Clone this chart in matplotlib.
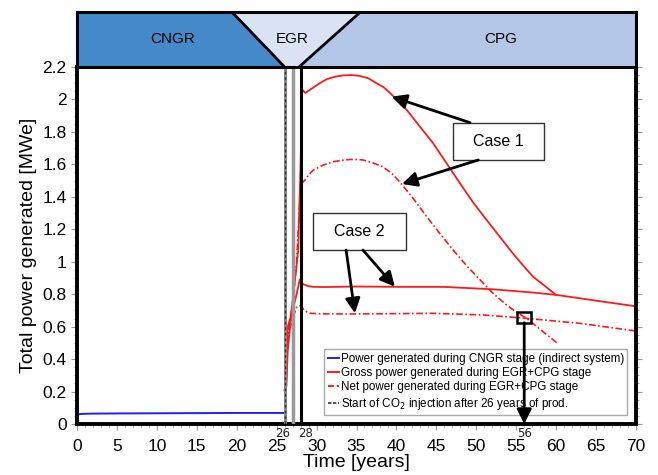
import numpy as np
import matplotlib.pyplot as plt
from matplotlib.lines import Line2D
from matplotlib.patches import Polygon, Rectangle
from matplotlib.ticker import AutoMinorLocator, MultipleLocator

plt.rcParams['font.family'] = ['Liberation Sans', 'DejaVu Sans']

# CNGR stage (indirect system)
cngr_x = [0, 0.5, 2, 5, 10, 15, 20, 25, 26]
cngr_y = [0.058, 0.062, 0.064, 0.065, 0.066, 0.067, 0.068, 0.068, 0.068]

# gross power, case 1 / case 2
gross1_x = [26.0, 26.2, 26.4, 27.0, 27.7, 28.0, 28.2, 28.6, 29.5, 30.4, 31.3, 32.3, 33.3,
            34.4, 35.4, 36.5, 37.5, 38.4, 39.2, 40.2, 41.3, 42.9, 44.6, 46.3, 48.0, 49.6,
            51.3, 53.0, 54.6, 55.9, 57.1, 58.6, 60.0]
gross1_y = [0.21, 0.23, 0.46, 0.75, 1.07, 1.60, 2.06, 2.04, 2.07, 2.10, 2.125, 2.14, 2.148,
            2.15, 2.145, 2.13, 2.10, 2.075, 2.04, 1.99, 1.935, 1.835, 1.73, 1.605, 1.48,
            1.365, 1.257, 1.15, 1.05, 0.975, 0.908, 0.85, 0.795]
gross2_x = [26.0, 26.2, 26.4, 27.0, 27.5, 27.9, 28.3, 28.9, 29.6, 31.0, 35.0, 40.4, 45.9,
            52.1, 57.1, 60.1, 65.0, 70.0]
gross2_y = [0.21, 0.23, 0.60, 0.70, 0.80, 0.89, 0.862, 0.85, 0.845, 0.844, 0.847, 0.845,
            0.845, 0.83, 0.81, 0.795, 0.76, 0.725]

# net power, case 1 / case 2
net1_x = [26.3, 26.6, 27.0, 27.5, 28.0, 28.5, 29.0, 29.6, 30.8, 32.1, 33.2, 34.2, 35.0,
          35.8, 37.0, 38.3, 39.4, 40.4, 42.1, 43.8, 45.5, 47.1, 48.8, 50.5, 52.1, 53.8,
          55.0, 56.3, 58.2, 60.1]
net1_y = [0.50, 0.62, 0.75, 1.00, 1.48, 1.50, 1.535, 1.565, 1.595, 1.616, 1.625, 1.63,
          1.63, 1.627, 1.61, 1.585, 1.545, 1.493, 1.39, 1.277, 1.17, 1.072, 0.975, 0.887,
          0.805, 0.733, 0.69, 0.651, 0.575, 0.50]
net2_x = [26.3, 26.6, 27.0, 27.5, 28.0, 28.4, 28.8, 29.2, 30.5, 34.2, 40.0, 44.6, 50.8,
          56.3, 63.0, 70.0]
net2_y = [0.50, 0.58, 0.65, 0.72, 0.73, 0.705, 0.69, 0.682, 0.679, 0.678, 0.68, 0.682,
          0.672, 0.651, 0.62, 0.573]

stage_names = ['CNGR', 'EGR', 'CPG']
stage_text_x = [12, 27, 53]
marked_years = ['26', '28', '56']
marked_label_x = [25.8, 28.6, 56.0]

fig = plt.figure(figsize=(6.58, 4.75), dpi=100)
ax = fig.add_axes([0.117, 0.1074, 0.8496, 0.7516])

ax.plot(cngr_x, cngr_y, color='#1f1fff', lw=1.4)
ax.plot(gross1_x, gross1_y, color='#ff1a1a', lw=1.3)
ax.plot(gross2_x, gross2_y, color='#ff1a1a', lw=1.3)
ax.plot(net1_x, net1_y, color='#ff1a1a', lw=1.2, dashes=[4, 1.5, 1, 1.5])
ax.plot(net2_x, net2_y, color='#ff1a1a', lw=1.2, dashes=[4, 1.5, 1, 1.5])

# stage markers
ax.axvline(26, color='#888888', lw=2.2, zorder=3)
ax.axvline(26, color='#333333', lw=1.0, ls=(0, (2, 2)), zorder=3)
ax.axvline(27, color='#999999', lw=2.5, zorder=3)
ax.axvline(28, color='black', lw=2.2, zorder=4)

ax.set_xlim(0, 70)
ax.set_ylim(0, 2.2)
ax.xaxis.set_major_locator(MultipleLocator(5))
ax.xaxis.set_minor_locator(AutoMinorLocator(5))
ax.set_yticks(np.arange(0, 2.21, 0.2))
ax.set_yticklabels(['0', '0.2', '0.4', '0.6', '0.8', '1', '1.2', '1.4', '1.6', '1.8', '2', '2.2'])
ax.yaxis.set_minor_locator(AutoMinorLocator(4))
ax.tick_params(which='both', direction='out', color='#999999', labelsize=12.5,
               right=True, top=False)
ax.tick_params(which='major', length=4)
ax.tick_params(which='minor', length=2.5)
ax.tick_params(axis='x', pad=7)
for s in ax.spines.values():
    s.set_linewidth(2.8)

ax.set_xlabel('Time [years]', fontsize=14, labelpad=0)
ax.set_ylabel('Total power generated [MWe]', fontsize=14, labelpad=4)

for lab, lx in zip(marked_years, marked_label_x):
    ax.text(lx, -0.008, lab, fontsize=8.5, ha='center', va='top', color='#222222',
            family='DejaVu Sans', transform=ax.get_xaxis_transform(), clip_on=False)

# case annotations
box_kw = dict(fill=False, edgecolor='#333333', lw=1.0, zorder=5)
ax.add_patch(Rectangle((47.1, 1.627), 11.4, 0.23, **box_kw))
ax.add_patch(Rectangle((47.1, 1.627), 11.4, 0.23, facecolor='white', edgecolor='none', zorder=4))
ax.text(52.8, 1.742, 'Case 1', ha='center', va='center', fontsize=11.5, zorder=6)
ax.add_patch(Rectangle((29.6, 1.072), 11.6, 0.23, **box_kw))
ax.add_patch(Rectangle((29.6, 1.072), 11.6, 0.23, facecolor='white', edgecolor='none', zorder=4))
ax.text(35.4, 1.187, 'Case 2', ha='center', va='center', fontsize=11.5, zorder=6)

arr = dict(arrowstyle='-|>', color='black', lw=2, mutation_scale=22, shrinkA=0, shrinkB=0)
ax.annotate('', xy=(39.4, 2.017), xytext=(49.2, 1.857), arrowprops=arr, zorder=6)
ax.annotate('', xy=(40.7, 1.479), xytext=(50.25, 1.627), arrowprops=arr, zorder=6)
ax.annotate('', xy=(34.8, 0.682), xytext=(33.7, 1.072), arrowprops=arr, zorder=6)
ax.annotate('', xy=(39.8, 0.846), xytext=(35.8, 1.072), arrowprops=arr, zorder=6)

ax.add_patch(Rectangle((55.1, 0.624), 1.7, 0.068, fill=False, edgecolor='black', lw=1.8, zorder=7))
ax.annotate('', xy=(56, 0.0), xytext=(56, 0.624), arrowprops=arr, zorder=7)

handles = [Line2D([], [], color='#1f1fff', lw=1.4),
           Line2D([], [], color='#ff1a1a', lw=1.4),
           Line2D([], [], color='#ff1a1a', lw=1.4, ls=(0, (3, 1.5))),
           Line2D([], [], color='#333333', lw=1.2, ls=(0, (2, 1)))]
labels = ['Power generated during CNGR stage (indirect system)',
          'Gross power generated during EGR+CPG stage',
          'Net power generated during EGR+CPG stage',
          'Start of CO$_2$ injection after 26 years of prod.']
leg = ax.legend(handles, labels, loc='lower right', bbox_to_anchor=(0.995, 0.008),
                fontsize=8.4, handlelength=1.0, handletextpad=0.1, labelspacing=0.2,
                borderpad=0.3, fancybox=False, framealpha=1, edgecolor='#aaaaaa')
leg.get_frame().set_linewidth(1.0)
leg.set_zorder(3)

# stage banner above the plot
bx = fig.add_axes([0.117, 0.859, 0.8496, 0.1158])
bx.set_xlim(0, 70)
bx.set_ylim(0, 1)
bx.add_patch(Polygon([(0, 0), (0, 1), (19.4, 1), (26, 0)], closed=True,
                     facecolor='#4689c8', edgecolor='none'))
bx.add_patch(Polygon([(19.4, 1), (35.5, 1), (27.8, 0), (26, 0)], closed=True,
                     facecolor='#dae3f3', edgecolor='none'))
bx.add_patch(Polygon([(35.5, 1), (70, 1), (70, 0), (27.8, 0)], closed=True,
                     facecolor='#b4c7e7', edgecolor='none'))
bx.plot([19.4, 26], [1, 0], color='black', lw=2)
bx.plot([35.5, 27.8], [1, 0], color='black', lw=2)
for name, tx in zip(stage_names, stage_text_x):
    bx.text(tx, 0.5, name, ha='center', va='center', fontsize=11)
bx.set_xticks([])
bx.set_yticks([])
for s in bx.spines.values():
    s.set_linewidth(2.2)

fig.savefig('out.png', dpi=100)
